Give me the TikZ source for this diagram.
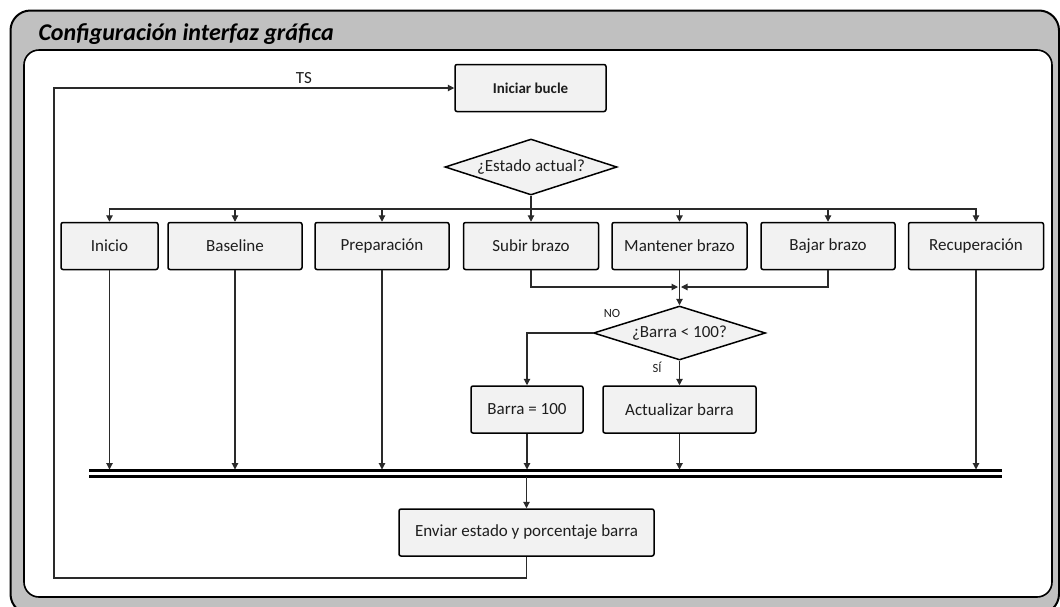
\documentclass[tikz,border=0pt]{standalone}
\usepackage{fontspec}
\setmainfont{Carlito}
\usetikzlibrary{shapes.geometric,arrows.meta}
\definecolor{boxfill}{HTML}{F2F2F2}
\definecolor{framegray}{HTML}{C0C0C0}
\definecolor{ink}{HTML}{1E1E1E}
\definecolor{wire}{HTML}{2A2A2A}
\tikzset{
  every node/.style={text=ink},
  stepbox/.style={draw=black, line width=1.5pt, fill=boxfill, rounded corners=2pt,
    inner sep=0pt, minimum height=47pt, font=\fontsize{17}{20}\selectfont},
  decision/.style={diamond, draw=black, line width=1.5pt, fill=boxfill, inner sep=0pt,
    shape aspect=3, font=\fontsize{17}{20}\selectfont},
  conn/.style={draw=wire, line width=1.1pt},
  arr/.style={conn, -{Triangle[length=6.5pt,width=6.5pt]}},
  busline/.style={draw=black, line width=2.2pt},
  small/.style={font=\fontsize{12.5}{14}\selectfont},
}
\begin{document}
\begin{tikzpicture}[x=1pt, y=-1pt]
  \useasboundingbox (0,0) rectangle (1060,606);
  \clip (0,0) rectangle (1060,606);

  % frame with title band and white panel
  \draw[fill=framegray, draw=black, line width=2pt, rounded corners=20pt]
    (10.5,10.5) rectangle (1059,614);
  \draw[fill=white, draw=black, line width=1.6pt, rounded corners=15pt]
    (24,50) rectangle (1052,597);
  \node[anchor=base west, font=\fontsize{24}{28}\selectfont\bfseries\itshape, text=black]
    (title) at (35,40) {Configuración interfaz gráfica};

  % loop start and state decision
  \node[stepbox, minimum width=151pt, font=\fontsize{15}{18}\selectfont\bfseries]
    (ini) at (530.5,88) {Iniciar bucle};
  \node[decision, minimum width=172pt, minimum height=56pt] (est) at (531,167) {¿Estado actual?};

  % states
  \node[stepbox, minimum width=97pt]  (inicio)   at (109.5,246) {Inicio};
  \node[stepbox, minimum width=134pt] (baseline) at (235,246)   {Baseline};
  \node[stepbox, minimum width=134pt] (prep)     at (382,246)   {Preparación};
  \node[stepbox, minimum width=135pt] (subir)    at (531,246)   {Subir brazo};
  \node[stepbox, minimum width=135pt] (mant)     at (679.5,246) {Mantener brazo};
  \node[stepbox, minimum width=134pt] (bajar)    at (828,246)   {Bajar brazo};
  \node[stepbox, minimum width=135pt] (recu)     at (976,246)   {Recuperación};

  % bar check
  \node[decision, minimum width=172pt, minimum height=54pt] (barra) at (679.5,333) {¿Barra < 100?};
  \node[stepbox, minimum width=112pt] (b100) at (527,409.5)   {Barra = 100};
  \node[stepbox, minimum width=153pt] (act)  at (679.5,409.5) {Actualizar barra};

  % send state
  \node[stepbox, minimum width=255pt] (enviar) at (526.5,532.5) {Enviar estado y porcentaje barra};

  % fork to the states
  \coordinate (fork) at (531,209);
  \draw[conn] (est.south) -- (fork);
  \foreach \n in {inicio,baseline,prep,mant,bajar,recu}
    \draw[arr] (fork) -| (\n.north);
  \draw[arr] (fork) -- (subir.north);

  % arm states merge into the bar check
  \coordinate (merge) at (679.5,287);
  \draw[arr, shorten >=1.5pt] (subir.south) |- (merge);
  \draw[arr, shorten >=1.5pt] (bajar.south) |- (merge);
  \draw[arr] (mant.south) -- (barra.north);
  \draw[arr] (barra.west) -| (b100.north);
  \draw[arr] (barra.south) -- (act.north);
  \node[small, anchor=center] (no) at (612,313) {NO};
  \node[small, anchor=center] (si) at (657,367) {SÍ};

  % join bar
  \coordinate (busL) at (89,470.5);
  \coordinate (busR) at (1002,470.5);
  \coordinate (busL2) at (89,476.5);
  \coordinate (busR2) at (1002,476.5);
  \draw[busline] (busL) -- (busR);
  \draw[busline] (busL2) -- (busR2);
  \foreach \n in {inicio,baseline,prep,b100,act,recu}
    \draw[arr, shorten >=1pt] (\n.south) -- (\n.south |- busL);
  \draw[arr] (enviar.north |- busL2) -- (enviar.north);

  % loop back every sample period
  \coordinate (lb) at (54,578);
  \draw[arr] (enviar.south) |- (lb) |- (ini.west);
  \node[font=\fontsize{17}{20}\selectfont] (ts) at (304,78) {TS};
\end{tikzpicture}
\end{document}
